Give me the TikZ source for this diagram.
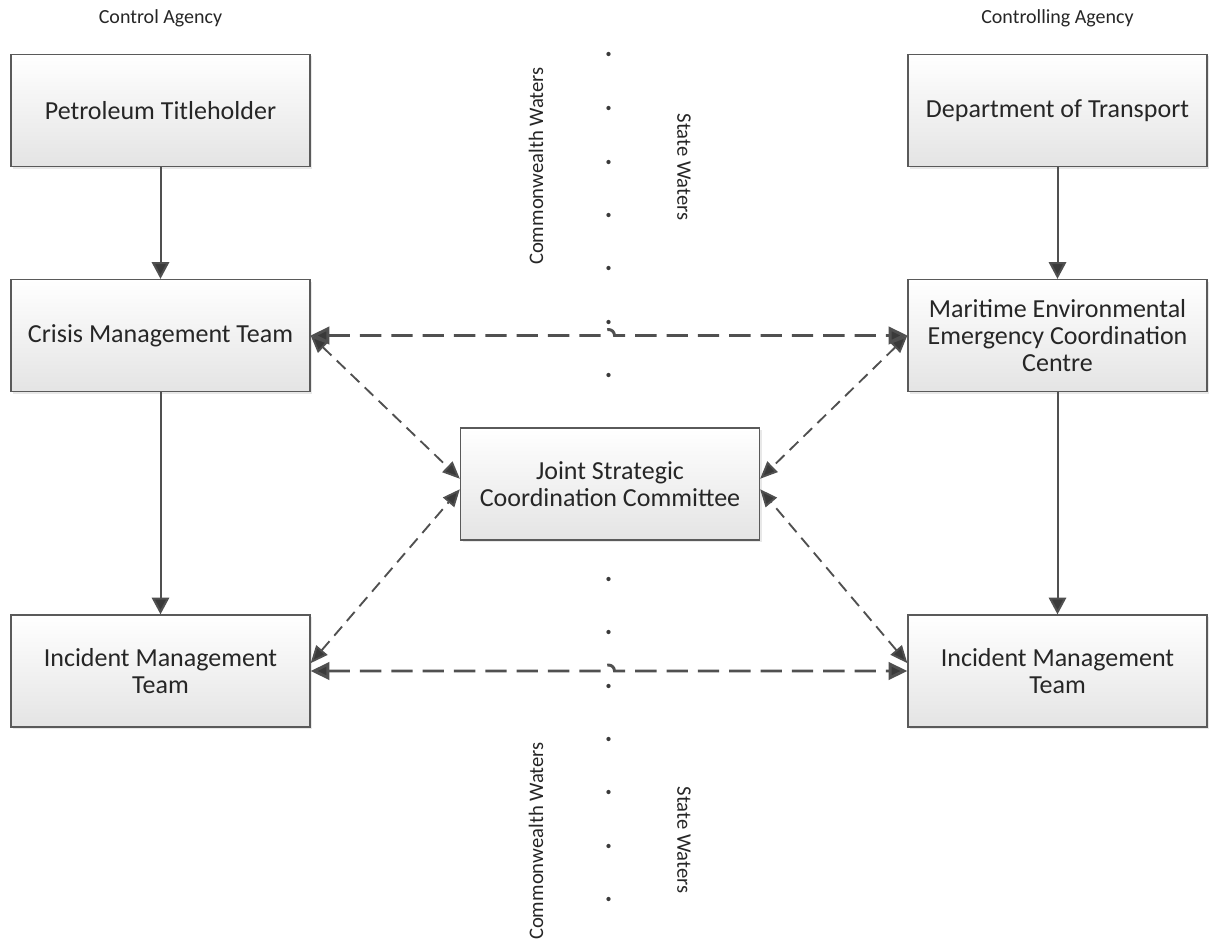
\documentclass[tikz,border=0pt]{standalone}
\usepackage{fontspec}
\setmainfont{Carlito}
\usetikzlibrary{arrows.meta,shadows}

\definecolor{linegray}{HTML}{505050}
\definecolor{headgray}{HTML}{3A3A3A}
\definecolor{boxedge}{HTML}{5A5A5A}
\definecolor{boxfill}{HTML}{E4E4E4}
\definecolor{textgray}{HTML}{262626}

\begin{document}
\begin{tikzpicture}[x=0.75pt,y=-0.75pt,
  box/.style={draw=boxedge, line width=1pt, top color=white, bottom color=boxfill,
    minimum width=224.25pt, minimum height=84pt, align=center, inner sep=2pt,
    font=\fontsize{19.5}{20.5}\selectfont, text=textgray,
    drop shadow={shadow xshift=1.5pt, shadow yshift=-1.5pt, opacity=0.18}},
  caption/.style={font=\fontsize{15}{17}\selectfont, text=textgray, inner sep=0pt},
  waters/.style={font=\fontsize{15.5}{17}\selectfont, text=textgray, inner sep=0pt},
  flow/.style={draw=linegray, line width=1.5pt,
    -{Triangle[length=12.5pt,width=13pt,fill=headgray]}},
  link/.style={draw=linegray, line width=2.2pt, dash pattern=on 16pt off 7.5pt,
    {Triangle[length=14pt,width=13pt,fill=headgray]}-{Triangle[length=14pt,width=13pt,fill=headgray]}},
  diag/.style={draw=linegray, line width=1.4pt, dash pattern=on 9pt off 5.5pt,
    {Triangle[length=13pt,width=11pt,fill=headgray]}-{Triangle[length=13pt,width=11pt,fill=headgray]}},
  boundarydot/.style={fill=headgray, draw=none, circle, minimum size=3.2pt, inner sep=0pt}
]
\useasboundingbox (0,0) rectangle (1210,942);

% agency headings
\node[caption] (hleft)  at (160.5,18) {Control Agency};
\node[caption] (hright) at (1057.5,18) {Controlling Agency};

% organisational boxes
\node[box] (pt)    at (160.5,110.5)  {Petroleum Titleholder};
\node[box] (dot)   at (1057.5,110.5) {Department of Transport};
\node[box] (cmt)   at (160.5,335.5)  {Crisis Management Team};
\node[box] (meecc) at (1057.5,335.5) {Maritime Environmental\\Emergency Coordination\\Centre};
\node[box] (jscc)  at (610,484)      {Joint Strategic\\Coordination Committee};
\node[box] (imtl)  at (160.5,671)    {Incident Management\\Team};
\node[box] (imtr)  at (1057.5,671)   {Incident Management\\Team};

% boundary between Commonwealth and State waters
\foreach \yy [count=\i] in {54,108,162,215,268,322,375,579,632,686,739,792,846,899}
  \node[boundarydot] (bd\i) at (608.5,\yy) {};

\node[waters, rotate=90]  (cwtop) at (536,166) {Commonwealth Waters};
\node[waters, rotate=-90] (swtop) at (684,167) {State Waters};
\node[waters, rotate=90]  (cwbot) at (536,841) {Commonwealth Waters};
\node[waters, rotate=-90] (swbot) at (684,840) {State Waters};

% line of command
\draw[flow] (pt) -- (cmt);
\draw[flow] (cmt) -- (imtl);
\draw[flow] (dot) -- (meecc);
\draw[flow] (meecc) -- (imtr);

% liaison across the boundary, jumping over the dotted line
\coordinate (hopa) at (602.5,335.5);
\coordinate (hopb) at (602.5,671);
\draw[link] (cmt.east) -- (hopa) arc[start angle=180, end angle=0, radius=4.5pt] -- (meecc.west);
\draw[link] (imtl.east) -- (hopb) arc[start angle=180, end angle=0, radius=4.5pt] -- (imtr.west);

% links with the joint committee
\draw[diag] (cmt.east) -- (jscc.178);
\draw[diag] (imtl.3) -- (jscc.182);
\draw[diag] (meecc.west) -- (jscc.2);
\draw[diag] (imtr.177) -- (jscc.358);
\end{tikzpicture}
\end{document}
